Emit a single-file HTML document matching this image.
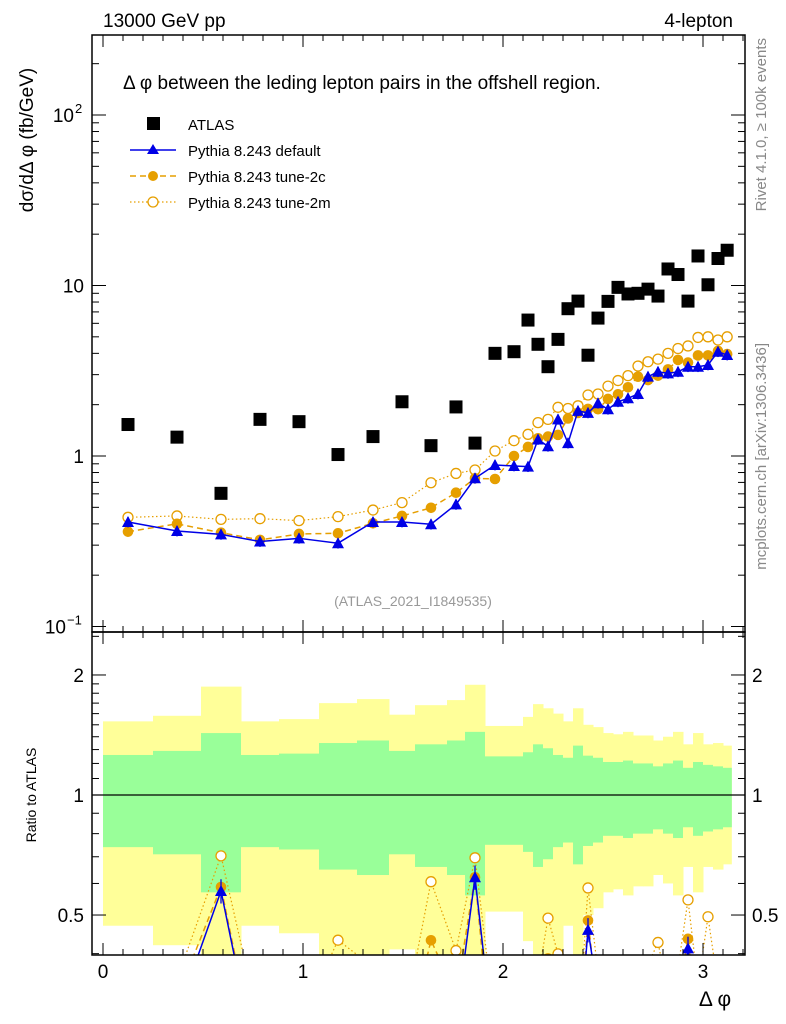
<!DOCTYPE html>
<html><head><meta charset="utf-8"><style>
html,body{margin:0;padding:0;background:#fff;width:786px;height:1024px;overflow:hidden}
svg{display:block;font-family:"Liberation Sans",sans-serif}
</style></head><body>
<svg id="chart" width="786" height="1024" viewBox="0 0 786 1024" xmlns="http://www.w3.org/2000/svg">
<defs>
<clipPath id="clipMain"><rect x="92" y="35" width="653" height="597"/></clipPath>
<clipPath id="clipRatio"><rect x="92" y="632" width="653" height="323"/></clipPath>
</defs>
<g id="ratioBands" clip-path="url(#clipRatio)"></g>
<g id="mainMarks" clip-path="url(#clipMain)"></g>
<g id="ratioMarks" clip-path="url(#clipRatio)"></g>
<g id="axes"></g>
<text x="103" y="27" font-size="19">13000 GeV pp</text>
<text x="733" y="27" font-size="19" text-anchor="end">4-lepton</text>
<text x="123" y="89" font-size="19">Δ φ between the leding lepton pairs in the offshell region.</text>
<text x="413" y="606" font-size="14" fill="#999" text-anchor="middle">(ATLAS_2021_I1849535)</text>
<text transform="translate(33,140) rotate(-90)" font-size="19" text-anchor="middle">dσ/dΔ φ (fb/GeV)</text>
<text transform="translate(36,795) rotate(-90)" font-size="14" text-anchor="middle">Ratio to ATLAS</text>
<text transform="translate(766,38) rotate(-90)" font-size="15" fill="#888" text-anchor="end">Rivet 4.1.0, ≥ 100k events</text>
<text transform="translate(766,343) rotate(-90)" font-size="15" fill="#888" text-anchor="end">mcplots.cern.ch [arXiv:1306.3436]</text>
<text x="715" y="1006" font-size="21" text-anchor="middle">Δ φ</text>
<g id="legend">
 <g><rect x="147" y="117" width="13" height="13" fill="#000"/><text x="188" y="130" font-size="15">ATLAS</text></g>
 <g><line x1="130" y1="150" x2="176" y2="150" stroke="#0000e6" stroke-width="1.5"/><polygon points="153,144 159,154 147,154" fill="#0000e6"/><text x="188" y="156" font-size="15">Pythia 8.243 default</text></g>
 <g><line x1="130" y1="176" x2="176" y2="176" stroke="#e69f00" stroke-width="1.5" stroke-dasharray="6,4"/><circle cx="153" cy="176" r="5" fill="#e69f00"/><text x="188" y="182" font-size="15">Pythia 8.243 tune-2c</text></g>
 <g><line x1="130" y1="202" x2="176" y2="202" stroke="#e69f00" stroke-width="1.2" stroke-dasharray="1.5,2.5"/><circle cx="153" cy="202" r="5" fill="#fff" stroke="#e69f00" stroke-width="1.3"/><text x="188" y="208" font-size="15">Pythia 8.243 tune-2m</text></g>
</g>
</svg>
<script>
const binEdges=[0,0.25,0.49,0.69,0.88,1.08,1.27,1.43,1.56,1.72,1.81,1.91,2.01,2.10,2.15,2.20,2.25,2.30,2.35,2.40,2.45,2.50,2.55,2.60,2.65,2.70,2.75,2.80,2.85,2.90,2.95,3.00,3.05,3.10,3.1416];
const atlas=[1.53,1.29,0.604,1.64,1.59,1.02,1.30,2.08,1.15,1.94,1.19,4.0,4.09,6.27,4.52,3.34,4.83,7.31,8.1,3.9,6.44,8.07,9.75,8.92,9.0,9.52,8.67,12.5,11.6,8.1,14.9,10.1,14.4,16.1];
const pyDefault=[0.41,0.363,0.347,0.315,0.329,0.308,0.41,0.41,0.398,0.52,0.74,0.885,0.874,0.866,1.25,1.14,1.64,1.19,1.84,1.79,2.04,1.88,2.08,2.18,2.31,2.92,3.12,3.05,3.12,3.34,3.34,3.42,4.09,3.91];
const tune2c=[0.36,0.40,0.355,0.322,0.349,0.352,0.403,0.445,0.497,0.609,0.74,0.733,1.0,1.13,1.27,1.30,1.33,1.66,1.79,1.89,1.88,2.16,2.30,2.53,2.92,2.79,2.96,3.22,3.66,3.53,3.89,3.89,4.13,3.96];
const tune2m=[0.437,0.445,0.425,0.429,0.418,0.441,0.482,0.533,0.697,0.79,0.828,1.07,1.23,1.34,1.57,1.64,1.93,1.90,1.97,2.28,2.31,2.57,2.77,2.96,3.37,3.57,3.70,4.0,4.27,4.42,4.96,5.0,4.79,5.0];
const statErr=[0.26,0.29,0.43,0.26,0.27,0.35,0.37,0.29,0.34,0.37,0.44,0.25,0.25,0.28,0.34,0.31,0.26,0.24,0.33,0.255,0.24,0.21,0.21,0.22,0.20,0.20,0.18,0.20,0.22,0.17,0.21,0.19,0.18,0.17];
const totErr=[0.53,0.58,0.87,0.53,0.55,0.70,0.74,0.59,0.68,0.73,0.89,0.49,0.49,0.57,0.69,0.65,0.60,0.53,0.65,0.50,0.48,0.43,0.42,0.44,0.41,0.41,0.37,0.40,0.44,0.34,0.43,0.34,0.35,0.33];
const xTicks=[0,1,2,3];
const yTickVals=[0.1,1,10,100];
const yTickLabels=["10","1","10","10"];
const yTickSup=["−1","","","2"];
const ratioTicks=[0.5,1,2];

const NS="http://www.w3.org/2000/svg";
const X=v=>103+200*v;
const Y=v=>456-170.5*Math.log10(v);
const R=v=>795-398.7*Math.log10(v);
function mk(parent,tag,attrs){const e=document.createElementNS(NS,tag);for(const k in attrs)e.setAttribute(k,attrs[k]);parent.appendChild(e);return e;}
const centers=binEdges.slice(0,-1).map((e,i)=>(e+binEdges[i+1])/2);
const bands=document.getElementById('ratioBands');
const main=document.getElementById('mainMarks');
const rm=document.getElementById('ratioMarks');
const axes=document.getElementById('axes');

for(let i=0;i<centers.length;i++){
  const x0=X(binEdges[i]),x1=X(binEdges[i+1]);
  const y=mk(bands,'rect',{x:x0,y:R(1+totErr[i]),width:x1-x0+0.5,height:R(Math.max(1-totErr[i],0.01))-R(1+totErr[i]),fill:'#ffff99'});
  
  
  const g=mk(bands,'rect',{x:x0,y:R(1+statErr[i]),width:x1-x0+0.5,height:R(1-statErr[i])-R(1+statErr[i]),fill:'#99ff99'});
  
  
}
const l1=mk(bands,'line',{x1:92,x2:745,y1:R(1),y2:R(1),stroke:'#000','stroke-width':1.2});



function series(parent,vals,fy,style,name,marker){
  const pts=vals.map((v,i)=>X(centers[i])+','+fy(v)).join(' ');
  const pl=mk(parent,'polyline',Object.assign({points:pts,fill:'none'},style));
  
  
  vals.forEach((v,i)=>{
    const cx=X(centers[i]),cy=fy(v);let m;
    if(marker==='tri'){
      mk(parent,'line',{x1:cx,x2:cx,y1:fy(v*1.07),y2:fy(v*0.93),stroke:'#0000e6','stroke-width':1.3});
      m=mk(parent,'polygon',{points:`${cx},${cy-6} ${cx+6},${cy+5} ${cx-6},${cy+5}`,fill:'#0000e6'});
    }else if(marker==='dot'){
      m=mk(parent,'circle',{cx:cx,cy:cy,r:5.3,fill:'#e69f00'});
    }else{
      m=mk(parent,'circle',{cx:cx,cy:cy,r:5,fill:'#fff',stroke:'#e69f00','stroke-width':1.3});
    }
    
    
  });
}
const styleDef={stroke:'#0000e6','stroke-width':1.5};
const style2c={stroke:'#e69f00','stroke-width':1.5,'stroke-dasharray':'6,4'};
const style2m={stroke:'#e69f00','stroke-width':1.2,'stroke-dasharray':'1.5,2.5'};
series(main,tune2m,Y,style2m,'tune-2m','open');
series(main,tune2c,Y,style2c,'tune-2c','dot');
series(main,pyDefault,Y,styleDef,'default','tri');
atlas.forEach((v,i)=>{
  const s=mk(main,'rect',{x:X(centers[i])-6.5,y:Y(v)-6.5,width:13,height:13,fill:'#000'});
  
  
});
const safe=v=>Math.max(v,0.05);
series(rm,tune2m.map((v,i)=>safe(v/atlas[i])),R,style2m,'ratio-tune-2m','open');
series(rm,tune2c.map((v,i)=>safe(v/atlas[i])),R,style2c,'ratio-tune-2c','dot');
series(rm,pyDefault.map((v,i)=>safe(v/atlas[i])),R,styleDef,'ratio-default','tri');

const f1=mk(axes,'rect',{x:92,y:35,width:653,height:597,fill:'none',stroke:'#000','stroke-width':1.5});


const f2=mk(axes,'rect',{x:92,y:632,width:653,height:323,fill:'none',stroke:'#000','stroke-width':1.5});


for(let k=0;k<=32;k++){
  const v=k/10,x=X(v),len=(k%10===0)?12:6;
  [[35,1],[632,-1],[632,1],[955,-1]].forEach(([y,d])=>mk(axes,'line',{x1:x,x2:x,y1:y,y2:y+d*len,stroke:'#000','stroke-width':1}));
}
xTicks.forEach(v=>{const t=mk(axes,'text',{x:X(v),y:978,'font-size':19,'text-anchor':'middle'});t.textContent=v;

});
for(let d=-1;d<=2;d++){for(let m=1;m<=9;m++){const v=m*Math.pow(10,d);const y=Y(v);if(y<35||y>632)continue;const len=m===1?14:7;
mk(axes,'line',{x1:92,x2:92+len,y1:y,y2:y,stroke:'#000'});mk(axes,'line',{x1:745,x2:745-len,y1:y,y2:y,stroke:'#000'});}}
yTickVals.forEach((v,i)=>{const t=mk(axes,'text',{x:yTickSup[i]?(yTickSup[i]==='2'?74:66):84,y:Y(v)+7,'font-size':19,'text-anchor':'end'});t.textContent=yTickLabels[i];


if(yTickSup[i]){const s=mk(axes,'text',{x:yTickSup[i]==='2'?75:67,y:Y(v)-2,'font-size':13});s.textContent=yTickSup[i];}});
[0.4,0.5,0.6,0.7,0.8,0.9,1,1.1,1.2,1.3,1.4,1.5,1.6,1.7,1.8,1.9,2,2.5].forEach(v=>{const y=R(v);if(y<632||y>955)return;const len=ratioTicks.includes(v)?14:7;
mk(axes,'line',{x1:92,x2:92+len,y1:y,y2:y,stroke:'#000'});mk(axes,'line',{x1:745,x2:745-len,y1:y,y2:y,stroke:'#000'});});
ratioTicks.forEach(v=>{[[84,'end'],[752,'start']].forEach(([x,a])=>{const t=mk(axes,'text',{x:x,y:R(v)+7,'font-size':19,'text-anchor':a});t.textContent=v;

});});
</script>
</body></html>
